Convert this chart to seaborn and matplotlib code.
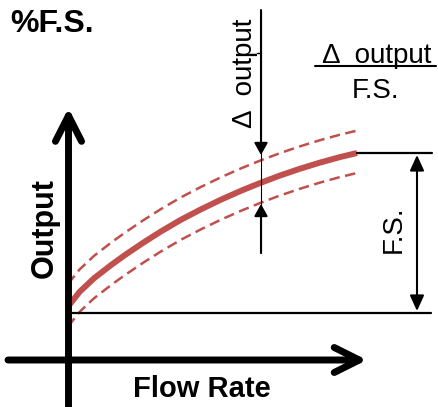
import matplotlib
matplotlib.use("Agg")
import matplotlib.pyplot as plt
import seaborn as sns

# flow rate (% of range) vs output (%F.S.)
flow = [0, 4, 9, 15, 20, 26, 32, 39, 46, 53, 60, 66, 73, 80, 87, 94, 100]
output = [4, 13.2, 21.7, 30.1, 36.6, 43.9, 50.8, 58.2, 64.8, 70.9, 76.5, 80.9,
          85.7, 90.0, 93.9, 97.4, 100]
# tolerance band (dashed)
upper = [18.2, 27.2, 35.7, 44.1, 50.6, 57.9, 64.8, 72.2, 78.8, 84.9, 90.5, 94.9,
         99.7, 104, 107.9, 111.4, 114]
lower = [-8.5, 0.7, 9.2, 17.6, 24.1, 31.4, 38.3, 45.7, 52.3, 58.4, 64, 68.4,
         73.2, 77.5, 81.4, 84.9, 87.5]

title = "%F.S."
xlabel = "Flow Rate"
ylabel = "Output"
delta_label = "Δ  output"
fs_label = "F.S."

RED = "#C0504D"

sns.set_style("white")
plt.rcParams['font.family'] = ['Liberation Sans', 'DejaVu Sans']
plt.rcParams['text.color'] = 'black'

fig = plt.figure(figsize=(4.39, 4.07), dpi=100)

# data axes: flow 0 sits at pixel x=68, output 0/100 at pixel y=313/153
ax = fig.add_axes([0, 0, 1, 1])
ax.set_xlim(-68 / 2.89, (439 - 68) / 2.89)
ax.set_ylim((313 - 407) / 1.6, 313 / 1.6)
ax.axis("off")

sns.lineplot(x=flow, y=output, ax=ax, color=RED, lw=4.3,
             solid_capstyle="butt", solid_joinstyle="round", errorbar=None)
sns.lineplot(x=flow, y=upper, ax=ax, color=RED, lw=1.8,
             linestyle=(0, (4.2, 2.2)), errorbar=None)
sns.lineplot(x=flow, y=lower, ax=ax, color=RED, lw=1.8,
             linestyle=(0, (4.2, 2.2)), errorbar=None)

# decoration layer in pixel coordinates
deco = fig.add_axes([0, 0, 1, 1])
deco.set_xlim(0, 439)
deco.set_ylim(407, 0)
deco.axis("off")
deco.patch.set_alpha(0)


def arrow(tail, tip, style, lw, hl, hw):
    deco.annotate("", xy=tip, xytext=tail,
                  arrowprops=dict(arrowstyle=f"{style},head_length={hl},head_width={hw}",
                                  color="black", lw=lw, shrinkA=0, shrinkB=0,
                                  mutation_scale=1, capstyle="round",
                                  joinstyle="round"))


# main axes with open arrow heads
arrow((68.5, 410), (68.5, 108), "->", 5, 18.5, 9.4)
arrow((8, 360), (367, 360), "->", 5, 18, 9)

# reference lines for zero and full scale
deco.plot([72, 431], [313, 313], color="black", lw=1.6)
deco.plot([357, 432], [153, 153], color="black", lw=1.6)

# F.S. span
arrow((417, 155), (417, 311), "<|-|>", 1.5, 9.4, 4.3)
deco.text(394, 229, fs_label, rotation=90, ha="center", va="center",
          fontsize=20, color="black")

# delta output span
deco.plot([261, 261], [10, 253], color="black", lw=0.8)
arrow((261, 10), (261, 155), "-|>", 1.5, 7.2, 4)
arrow((261, 253), (261, 204), "-|>", 1.5, 7.2, 4)
deco.plot([257, 261], [53, 53], color="black", lw=1)
deco.text(245, 73, delta_label, rotation=90, ha="center", va="center",
          fontsize=20, color="black")

# fraction delta output / F.S.
deco.text(377, 63, delta_label, ha="center", va="baseline", fontsize=20, color="black")
deco.plot([315, 436], [66, 66], color="black", lw=1.5)
deco.text(376, 98, fs_label, ha="center", va="baseline", fontsize=20, color="black")

# labels
deco.text(10, 32, title, ha="left", va="baseline", fontsize=23,
          fontweight="bold", color="black")
deco.text(45, 228, ylabel, rotation=90, ha="center", va="center",
          fontsize=22, fontweight="bold", color="black")
deco.text(202, 397, xlabel, ha="center", va="baseline", fontsize=21,
          fontweight="bold", color="black")

fig.savefig("out.png", dpi=100)
